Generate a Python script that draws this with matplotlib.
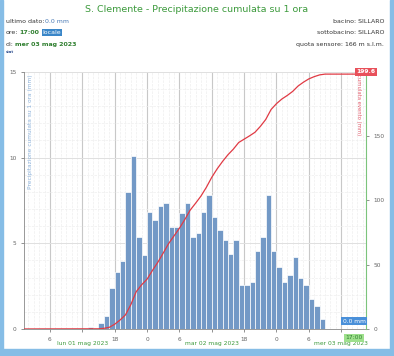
import numpy as np
import matplotlib.pyplot as plt
from matplotlib.patches import Rectangle

# hourly rain (mm), hour counted from lun 01 mag 2023 00:00, bar covers [h, h+1)
hours = list(range(13, 57))
rain = [0.1, 0.0, 0.37, 0.78, 2.4, 3.3, 3.97, 8.0, 10.1, 5.35,
        4.32, 6.8, 6.36, 7.18, 7.37, 5.97, 5.97, 6.75, 7.37, 5.35,
        5.58, 6.8, 7.8, 6.56, 5.78, 5.2, 4.36, 5.2, 2.57, 2.57,
        2.76, 4.57, 5.39, 7.8, 4.57, 3.6, 2.76, 3.15, 4.18, 3.0,
        2.57, 1.75, 1.36, 0.6]
tick_hours = [6, 12, 18, 24, 30, 36, 42, 48, 54, 60]
tick_labels = ['6', 'lun 01 mag 2023', '18', '0', '6', 'mar 02 mag 2023',
               '18', '0', '6', 'mer 03 mag 2023']
t_start, t_end = 1.2, 64.6

green = '#3c9a3c'
grey = '#666666'

fig = plt.figure(figsize=(3.94, 3.56), dpi=100)
ax = fig.add_axes([0.061, 0.076, 0.868, 0.722])

ax.bar(hours, rain, width=1, align='edge', color='#7399c6',
       edgecolor='white', linewidth=0.5, zorder=2)
ax.set_xlim(t_start, t_end)
ax.set_ylim(0, 15)
ax.set_yticks([0, 5, 10, 15])
ax.set_xticks(tick_hours)
ax.set_xticklabels(tick_labels)
ax.set_xticks(np.arange(2, 65, 1), minor=True)
ax.set_yticks(np.arange(0, 15, 1), minor=True)
ax.grid(which='major', axis='x', color='#c8c8c8', linewidth=0.8, zorder=0)
ax.grid(which='major', axis='y', color='#e0e0e0', linewidth=0.7, zorder=0)
ax.grid(which='minor', color='#eeeeee', linewidth=0.5, linestyle='--', zorder=0)
ax.tick_params(axis='both', which='major', labelsize=4.2, colors=grey, length=2, width=0.5)
ax.tick_params(axis='both', which='minor', length=0)
for lab in ax.get_xticklabels():
    if 'mag' in lab.get_text():
        lab.set_color(green)
        lab.set_fontsize(4.3)
        lab.set_y(-0.018)
for s in ['top', 'right']:
    ax.spines[s].set_visible(False)
ax.spines['left'].set_color('#888888')
ax.spines['bottom'].set_color('#888888')
ax.spines['left'].set_linewidth(0.6)
ax.spines['bottom'].set_linewidth(0.6)
ax.text(0.012, 0.99, 'Precipitazione cumulata su 1 ora (mm)', transform=ax.transAxes,
        rotation=90, va='top', ha='left', fontsize=4.2, color='#8fb4dc')

# cumulated rain on right axis
cum = np.cumsum(rain)
cx = [t_start] + [h + 1 for h in hours] + [t_end]
cy = [0] + list(cum) + [cum[-1]]
ax2 = ax.twinx()
ax2.plot(cx, cy, color='#e03a44', linewidth=0.9, zorder=3)
ax2.set_ylim(0, 200)
ax2.set_yticks([0, 50, 100, 150])
ax2.tick_params(labelsize=4.2, colors=grey, length=2, width=0.5)
for s in ['top', 'left', 'bottom']:
    ax2.spines[s].set_visible(False)
ax2.spines['right'].set_color('#7cc47c')
ax2.spines['right'].set_linewidth(0.8)
ax2.text(0.985, 0.99, 'cumulata evento (mm)', transform=ax2.transAxes,
         rotation=270, va='top', ha='right', fontsize=3.8, color='#e05a6a')
ax2.annotate('199.6', xy=(1.0, 1.0), xycoords='axes fraction', ha='center', va='center',
             fontsize=4.3, color='white', fontweight='bold',
             bbox=dict(boxstyle='square,pad=0.25', fc='#e8505a', ec='none'))
ax2.annotate('0.0 mm', xy=(0.965, 0.02), xycoords='axes fraction', ha='center', va='bottom',
             fontsize=4.3, color='white',
             bbox=dict(boxstyle='square,pad=0.25', fc='#4a90d9', ec='none'))
ax2.annotate('17:00', xy=(0.965, -0.035), xycoords='axes fraction', ha='center', va='center',
             fontsize=4.3, color='#2f7f2f',
             bbox=dict(boxstyle='square,pad=0.2', fc='#9ee08c', ec='none'))

# header
fig.text(0.5, 0.972, 'S. Clemente - Precipitazione cumulata su 1 ora', ha='center',
         va='center', fontsize=6.8, color=green)
fs = 4.5


def header_line(y, parts):
    # pieces of one line, each placed right after the previous one
    last = None
    for txt, col, bold, box in parts:
        kw = dict(fontsize=fs, color=col, va='center', ha='left',
                  fontweight='bold' if bold else 'normal')
        if box:
            kw['bbox'] = dict(boxstyle='square,pad=0.15', fc=box, ec='none')
        if last is None:
            last = fig.text(0.015, y, txt, **kw)
        else:
            last = ax2.annotate(txt, xy=(1, 0.5), xycoords=last,
                                xytext=(2.5 if box else 0.8, 0),
                                textcoords='offset points', annotation_clip=False, **kw)


header_line(0.94, [('ultimo dato:', '#333333', False, None),
                   ('0.0 mm', '#4a7ab5', False, None)])
header_line(0.908, [('ore:', '#333333', False, None),
                    ('17:00', '#2f7f2f', True, None),
                    ('locale', 'white', False, '#3a86c8')])
header_line(0.876, [('di:', '#333333', False, None),
                    ('mer 03 mag 2023', '#2f7f2f', True, None)])
fig.text(0.015, 0.853, 'stat', fontsize=2.6, color='#2f4f8f', va='center', fontweight='bold')
fig.text(0.975, 0.94, 'bacino: SILLARO', fontsize=fs, color='#333333', ha='right', va='center')
fig.text(0.975, 0.908, 'sottobacino: SILLARO', fontsize=fs, color='#333333', ha='right', va='center')
fig.text(0.975, 0.876, 'quota sensore: 166 m s.l.m.', fontsize=fs, color='#333333',
         ha='right', va='center')

# light blue frame around the chart
frame_c = '#86bde6'
fig.patches.append(Rectangle((0.0, 0.0), 0.008, 1.0, transform=fig.transFigure,
                             color=frame_c, zorder=0))
fig.patches.append(Rectangle((0.99, 0.0), 0.01, 1.0, transform=fig.transFigure,
                             color=frame_c, zorder=0))
fig.patches.append(Rectangle((0.0, 0.0), 1.0, 0.02, transform=fig.transFigure,
                             color=frame_c, zorder=0))

fig.savefig('out.png', dpi=100)
